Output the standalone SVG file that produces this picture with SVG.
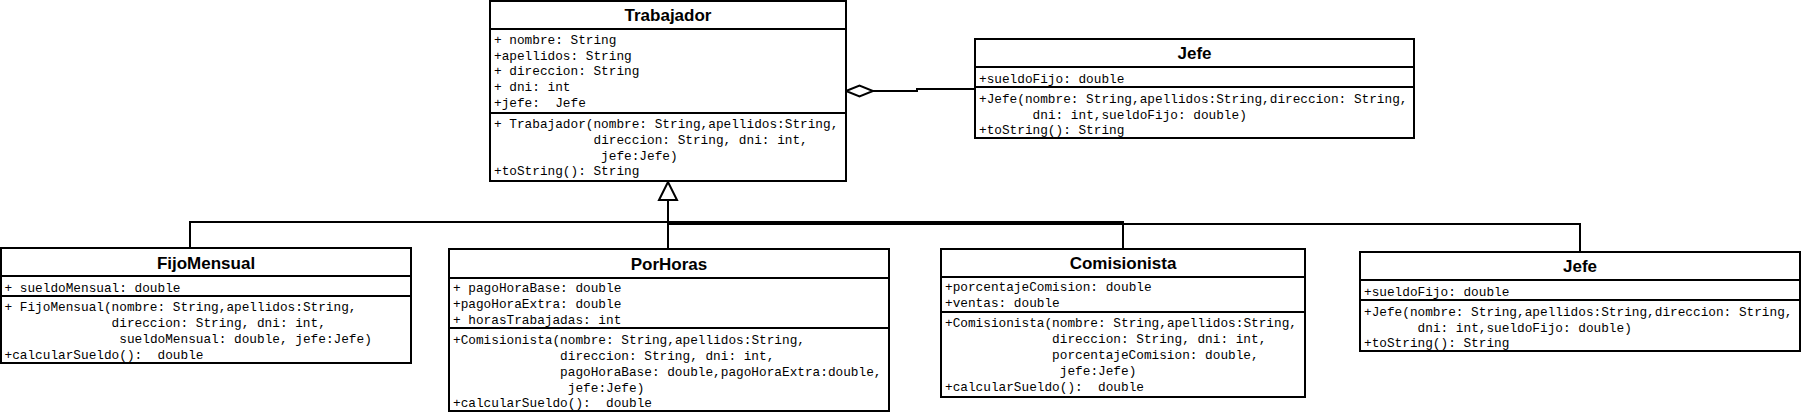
<svg xmlns="http://www.w3.org/2000/svg" width="1806" height="415" viewBox="0 0 1806 415">
<style>
.box{fill:#fff;stroke:#000;stroke-width:2}
.sep{stroke:#000;stroke-width:2}
.t{font-family:"Liberation Sans",Arial,sans-serif;font-weight:bold;font-size:17px;text-anchor:middle;fill:#000}
.m{font-family:"Liberation Mono","Courier New",monospace;font-size:12.75px;white-space:pre;fill:#000}
.c{fill:none;stroke:#000;stroke-width:2}
.head{fill:#fff;stroke:#000;stroke-width:2}
</style>
<rect x="0" y="0" width="1806" height="415" fill="#fff"/>

<g id="connectors">
  <path class="c" d="M190,248 V222 H668 V200"/>
  <path class="c" d="M668,249 V200"/>
  <path class="c" d="M1123,249 V222 H668 V200"/>
  <path class="c" d="M1580,252 V224 H668 V200"/>
  <polygon class="head" points="668,182 659,200 677,200"/>
  <path class="c" d="M873,91 H917 V89 H975"/>
  <polygon class="head" points="846,91 859.5,85.5 873,91 859.5,96.5"/>
</g>

<g id="Trabajador">
  <rect class="box" x="490" y="1" width="356" height="180"/>
  <line class="sep" x1="490" y1="29" x2="846" y2="29"/>
  <line class="sep" x1="490" y1="113" x2="846" y2="113"/>
  <text class="t" x="668" y="21">Trabajador</text>
  <text class="m" x="494" y="44">+ nombre: String</text>
  <text class="m" x="494" y="60">+apellidos: String</text>
  <text class="m" x="494" y="75">+ direccion: String</text>
  <text class="m" x="494" y="91">+ dni: int</text>
  <text class="m" x="494" y="107">+jefe:  Jefe</text>
  <text class="m" x="494" y="128">+ Trabajador(nombre: String,apellidos:String,</text>
  <text class="m" x="593.5" y="144">direccion: String, dni: int,</text>
  <text class="m" x="601.1" y="160">jefe:Jefe)</text>
  <text class="m" x="494" y="175">+toString(): String</text>
</g>

<g id="JefeTop">
  <rect class="box" x="975" y="39" width="439" height="99"/>
  <line class="sep" x1="975" y1="67" x2="1414" y2="67"/>
  <line class="sep" x1="975" y1="87" x2="1414" y2="87"/>
  <text class="t" x="1194.5" y="59">Jefe</text>
  <text class="m" x="979" y="83">+sueldoFijo: double</text>
  <text class="m" x="979" y="103">+Jefe(nombre: String,apellidos:String,direccion: String,</text>
  <text class="m" x="1032.6" y="118.5">dni: int,sueldoFijo: double)</text>
  <text class="m" x="979" y="134">+toString(): String</text>
</g>

<g id="FijoMensual">
  <rect class="box" x="1" y="248" width="410" height="115"/>
  <line class="sep" x1="1" y1="276" x2="411" y2="276"/>
  <line class="sep" x1="1" y1="296" x2="411" y2="296"/>
  <text class="t" x="206" y="269">FijoMensual</text>
  <text class="m" x="4.5" y="292">+ sueldoMensual: double</text>
  <text class="m" x="4.5" y="311">+ FijoMensual(nombre: String,apellidos:String,</text>
  <text class="m" x="111.6" y="327">direccion: String, dni: int,</text>
  <text class="m" x="119.3" y="343">sueldoMensual: double, jefe:Jefe)</text>
  <text class="m" x="4.5" y="359">+calcularSueldo():  double</text>
</g>

<g id="PorHoras">
  <rect class="box" x="449" y="249" width="440" height="162"/>
  <line class="sep" x1="449" y1="278" x2="889" y2="278"/>
  <line class="sep" x1="449" y1="328" x2="889" y2="328"/>
  <text class="t" x="669" y="270">PorHoras</text>
  <text class="m" x="453" y="292">+ pagoHoraBase: double</text>
  <text class="m" x="453" y="308">+pagoHoraExtra: double</text>
  <text class="m" x="453" y="324">+ horasTrabajadas: int</text>
  <text class="m" x="453" y="344">+Comisionista(nombre: String,apellidos:String,</text>
  <text class="m" x="560.1" y="360">direccion: String, dni: int,</text>
  <text class="m" x="560.1" y="376">pagoHoraBase: double,pagoHoraExtra:double,</text>
  <text class="m" x="567.8" y="392">jefe:Jefe)</text>
  <text class="m" x="453" y="407">+calcularSueldo():  double</text>
</g>

<g id="Comisionista">
  <rect class="box" x="941" y="249" width="364" height="148"/>
  <line class="sep" x1="941" y1="277" x2="1305" y2="277"/>
  <line class="sep" x1="941" y1="312" x2="1305" y2="312"/>
  <text class="t" x="1123" y="269">Comisionista</text>
  <text class="m" x="945" y="291">+porcentajeComision: double</text>
  <text class="m" x="945" y="307">+ventas: double</text>
  <text class="m" x="945" y="327">+Comisionista(nombre: String,apellidos:String,</text>
  <text class="m" x="1052.1" y="343">direccion: String, dni: int,</text>
  <text class="m" x="1052.1" y="359">porcentajeComision: double,</text>
  <text class="m" x="1059.8" y="375">jefe:Jefe)</text>
  <text class="m" x="945" y="391">+calcularSueldo():  double</text>
</g>

<g id="JefeBottom">
  <rect class="box" x="1360" y="252" width="440" height="99"/>
  <line class="sep" x1="1360" y1="280" x2="1800" y2="280"/>
  <line class="sep" x1="1360" y1="300" x2="1800" y2="300"/>
  <text class="t" x="1580" y="272">Jefe</text>
  <text class="m" x="1364" y="296">+sueldoFijo: double</text>
  <text class="m" x="1364" y="316">+Jefe(nombre: String,apellidos:String,direccion: String,</text>
  <text class="m" x="1417.6" y="331.5">dni: int,sueldoFijo: double)</text>
  <text class="m" x="1364" y="347">+toString(): String</text>
</g>
</svg>
